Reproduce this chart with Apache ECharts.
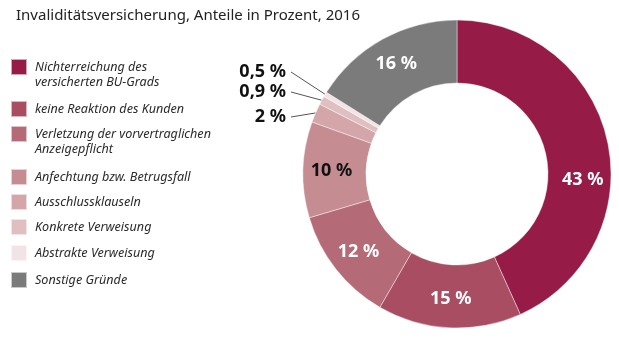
<!DOCTYPE html>
<html><head><meta charset="utf-8">
<script src="https://cdn.jsdelivr.net/npm/echarts@6/dist/echarts.min.js"></script>
<style>html,body{margin:0;padding:0;background:#fff}#c{width:619px;height:344px}</style>
</head><body><div id="c"></div>
<script>
var titleText = 'Invaliditätsversicherung, Anteile in Prozent, 2016';
var categories = ['Nichterreichung des versicherten BU-Grads','keine Reaktion des Kunden','Verletzung der vorvertraglichen Anzeigepflicht','Anfechtung bzw. Betrugsfall','Ausschlussklauseln','Konkrete Verweisung','Abstrakte Verweisung','Sonstige Gründe'];
var values = [43, 15, 12, 10, 2, 0.9, 0.5, 16];
var colors = ['#961C47','#A94D62','#B56B77','#C58D92','#D4A6AA','#E0BFC2','#F2E4E6','#7B7B7B'];

var wrapNames = {
  'Nichterreichung des versicherten BU-Grads': 'Nichterreichung des\nversicherten BU-Grads',
  'Verletzung der vorvertraglichen Anzeigepflicht': 'Verletzung der vorvertraglichen\nAnzeigepflicht'
};
var legendTops = [59, 100, 126, 168, 193, 218, 244, 271];
// outside label placement (right edge x, middle y) for the small slices
var outsideLabelPos = { 4: [286, 117], 5: [286, 92], 6: [286, 72] };

var legends = categories.map(function (n, i) {
  var two = !!wrapNames[n];
  return {
    data: [n], orient: 'vertical', left: 10, top: two ? legendTops[i] - 14.5 : legendTops[i],
    padding: 0, itemWidth: 16, itemHeight: 16, icon: 'rect', selectedMode: false,
    formatter: function (name) { return wrapNames[name] ? '\n' + wrapNames[name] : name; },
    textStyle: { fontFamily: 'Noto Sans', fontStyle: 'italic', fontSize: 12.6, color: '#2a2a2a', lineHeight: 15,
      padding: [0, 0, 0, 3] }
  };
});

var data = categories.map(function (n, i) {
  var d = { name: n, value: values[i], itemStyle: { color: colors[i] } };
  if (outsideLabelPos[i] !== undefined) {
    d.label = { position: 'outside', color: '#111', fontSize: 18 };
    d.labelLine = { show: true, length: 20, length2: 0, lineStyle: { color: '#555', width: 1 } };
  } else if (i === 3) {
    d.label = { color: '#111' };
  } else if (i === 0) {
    d.label = { offset: [3, 32] };
  }
  return d;
});

var chart = echarts.init(document.getElementById('c'), null, { renderer: 'canvas' });
chart.setOption({
  animation: false,
  backgroundColor: '#fff',
  title: { text: titleText, left: 11, top: 3, textStyle: { fontFamily: 'Noto Sans', fontSize: 15, fontWeight: 'normal', color: '#222' } },
  legend: legends,
  series: [{
    type: 'pie', center: [457, 174], radius: [91, 154], startAngle: 90, clockwise: true,
    avoidLabelOverlap: false,
    itemStyle: { borderColor: 'rgba(255,255,255,0.6)', borderWidth: 0.7 },
    label: { show: true, position: 'inside', color: '#fff', fontFamily: 'Noto Sans', fontWeight: 'bold', fontSize: 18,
      formatter: function (p) { return String(p.value).replace('.', ',') + ' %'; } },
    labelLine: { show: false },
    labelLayout: function (p) {
      var pos = outsideLabelPos[p.dataIndex];
      if (!pos || !p.labelLinePoints) return {};
      var start = p.labelLinePoints[0];
      var end = [pos[0] + 5, pos[1]];
      return { x: pos[0], y: pos[1], align: 'right', verticalAlign: 'middle', hideOverlap: false,
        labelLinePoints: [start, end, end] };
    },
    emphasis: { disabled: true },
    data: data
  }]
});
</script></body></html>
